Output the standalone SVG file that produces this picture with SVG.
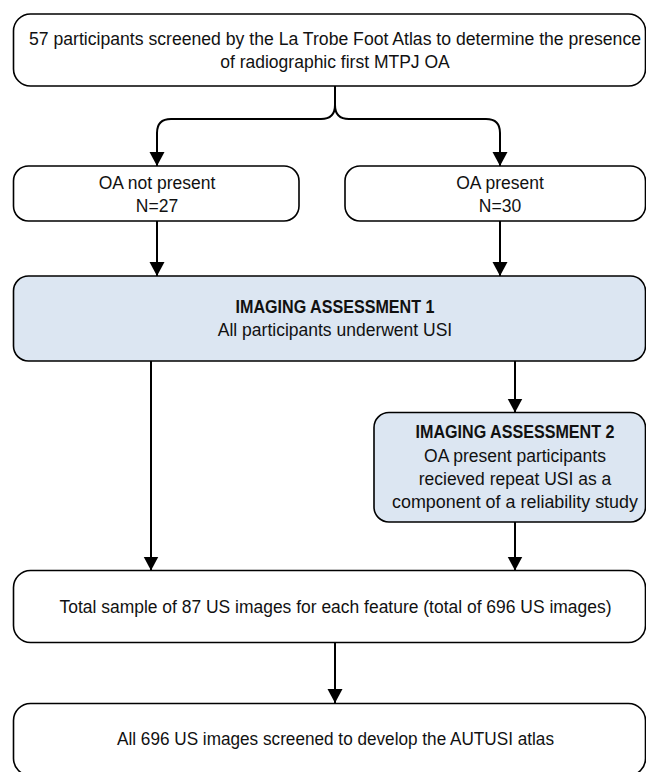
<svg xmlns="http://www.w3.org/2000/svg" width="646" height="772" viewBox="0 0 646 772">
<defs>
<marker id="arr" markerUnits="userSpaceOnUse" markerWidth="16" markerHeight="16" refX="14" refY="7.5" orient="auto">
<path d="M0,0 L14,7.5 L0,15 z" fill="#000"/>
</marker>
<style>
.box{fill:#fff;stroke:#000;stroke-width:1.6}
.blue{fill:#dce6f2;stroke:#000;stroke-width:1.6}
.t{font-family:"Liberation Sans",Arial,sans-serif;font-size:17.5px;fill:#111;text-anchor:middle}
.b{font-weight:bold}
.c{fill:none;stroke:#000;stroke-width:2}
</style>
</defs>
<rect width="646" height="772" fill="#fff"/>
<g id="connectors">
<path class="c" d="M335,86 V105 Q335,119 321,119 H171 Q157,119 157,133 V166" marker-end="url(#arr)"/>
<path class="c" d="M335,105 Q335,119 349,119 H486 Q500,119 500,133 V166" marker-end="url(#arr)"/>
<path class="c" d="M157,221 V276" marker-end="url(#arr)"/>
<path class="c" d="M500,221 V276" marker-end="url(#arr)"/>
<path class="c" d="M151,361 V570.5" marker-end="url(#arr)"/>
<path class="c" d="M515,361 V412.5" marker-end="url(#arr)"/>
<path class="c" d="M515,522 V570.5" marker-end="url(#arr)"/>
<path class="c" d="M335,642 V703" marker-end="url(#arr)"/>
</g>
<g id="n-screen">
<rect class="box" x="13.5" y="14" width="632" height="72" rx="17"/>
<text class="t" x="335" y="45" textLength="612" lengthAdjust="spacingAndGlyphs">57 participants screened by the La Trobe Foot Atlas to determine the presence</text>
<text class="t" x="335" y="68">of radiographic first MTPJ OA</text>
</g>
<g id="n-notpresent">
<rect class="box" x="13.5" y="166" width="285.5" height="55" rx="15"/>
<text class="t" x="157" y="189">OA not present</text>
<text class="t" x="157" y="212">N=27</text>
</g>
<g id="n-present">
<rect class="box" x="345" y="166" width="300.5" height="55" rx="15"/>
<text class="t" x="500" y="189">OA present</text>
<text class="t" x="500" y="212">N=30</text>
</g>
<g id="n-ia1">
<rect class="blue" x="13.5" y="276" width="632" height="85" rx="15"/>
<text class="t b" x="335" y="313" textLength="199" lengthAdjust="spacingAndGlyphs">IMAGING ASSESSMENT 1</text>
<text class="t" x="335" y="336">All participants underwent USI</text>
</g>
<g id="n-ia2">
<rect class="blue" x="374" y="412.5" width="271.5" height="109.5" rx="15"/>
<text class="t b" x="515" y="438" textLength="199" lengthAdjust="spacingAndGlyphs">IMAGING ASSESSMENT 2</text>
<text class="t" x="515" y="461.5">OA present participants</text>
<text class="t" x="515" y="485">recieved repeat USI as a</text>
<text class="t" x="515" y="508" textLength="246" lengthAdjust="spacingAndGlyphs">component of a reliability study</text>
</g>
<g id="n-total">
<rect class="box" x="13.5" y="570.5" width="632" height="72" rx="17"/>
<text class="t" x="335.5" y="612.5" textLength="552" lengthAdjust="spacingAndGlyphs">Total sample of 87 US images for each feature (total of 696 US images)</text>
</g>
<g id="n-all">
<rect class="box" x="13.5" y="703.5" width="632" height="72" rx="17"/>
<text class="t" x="335.5" y="745" textLength="437" lengthAdjust="spacingAndGlyphs">All 696 US images screened to develop the AUTUSI atlas</text>
</g>
</svg>
